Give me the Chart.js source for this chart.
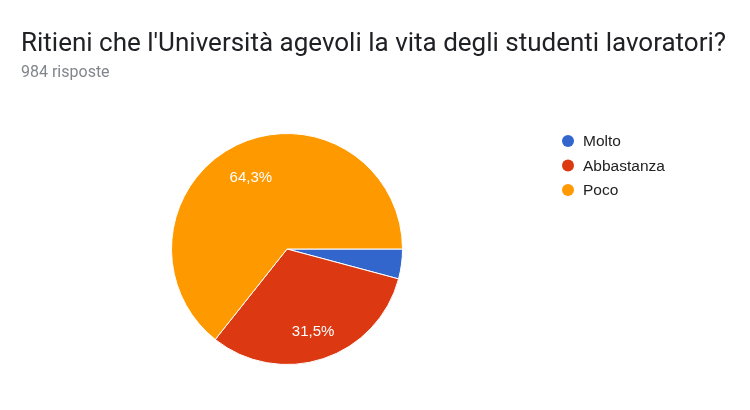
<!DOCTYPE html>
<html>
<head>
<meta charset="utf-8">
<script src="https://cdn.jsdelivr.net/npm/chart.js@4/dist/chart.umd.min.js"></script>
<style>
  html, body { margin: 0; padding: 0; background: #fff; }
  #wrap { position: relative; width: 750px; height: 410px; overflow: hidden; }
  #c { position: absolute; left: 0; top: 0; }
  #title { position: absolute; left: 21px; top: 29px; font-family: Roboto, sans-serif; font-size: 26px; line-height: 26px; color: #202124; white-space: nowrap; }
  #sub { position: absolute; left: 21px; top: 63px; font-family: Roboto, sans-serif; font-size: 16px; line-height: 18px; color: #80868b; white-space: nowrap; }
</style>
</head>
<body>
<div id="wrap">
  <canvas id="c" width="750" height="410"></canvas>
  <div id="title">Ritieni che l'Università agevoli la vita degli studenti lavoratori?</div>
  <div id="sub">984 risposte</div>
</div>
<script>
const categories = ['Molto', 'Abbastanza', 'Poco'];
const counts = [41, 310, 633];
const sliceColors = ['#3366CC', '#DC3912', '#FF9900'];

const total = counts.reduce((a, b) => a + b, 0);
function pctText(v) {
  return (v / total * 100).toFixed(1).replace('.', ',') + '%';
}

const sliceLabels = {
  id: 'sliceLabels',
  afterDatasetsDraw(chart) {
    const ctx = chart.ctx;
    const meta = chart.getDatasetMeta(0);
    ctx.save();
    ctx.font = '15px "Liberation Sans", Arial, sans-serif';
    ctx.fillStyle = '#ffffff';
    ctx.textAlign = 'center';
    ctx.textBaseline = 'middle';
    meta.data.forEach((arc, i) => {
      const v = counts[i];
      if (v / total < 0.05) return;
      const p = arc.getProps(['x', 'y', 'startAngle', 'endAngle', 'outerRadius'], true);
      const mid = (p.startAngle + p.endAngle) / 2;
      const r = p.outerRadius * 0.72;
      ctx.fillText(pctText(v), p.x + Math.cos(mid) * r, p.y + Math.sin(mid) * r + 4);
    });
    ctx.restore();
  }
};

const customLegend = {
  id: 'customLegend',
  afterDraw(chart) {
    const ctx = chart.ctx;
    ctx.save();
    ctx.font = '15.5px "Liberation Sans", Arial, sans-serif';
    ctx.textAlign = 'left';
    ctx.textBaseline = 'middle';
    categories.forEach((name, i) => {
      const y = 141 + i * 24.5;
      ctx.beginPath();
      ctx.arc(568, y, 6, 0, Math.PI * 2);
      ctx.fillStyle = sliceColors[i];
      ctx.fill();
      ctx.fillStyle = '#222222';
      ctx.fillText(name, 583, y + 1);
    });
    ctx.restore();
  }
};

new Chart(document.getElementById('c'), {
  type: 'pie',
  data: {
    labels: categories,
    datasets: [{
      data: counts,
      backgroundColor: sliceColors,
      borderColor: '#ffffff',
      borderWidth: 1
    }]
  },
  options: {
    responsive: false,
    animation: false,
    rotation: 90,
    layout: { padding: { left: 171, right: 347, top: 133, bottom: 45 } },
    plugins: {
      legend: { display: false },
      tooltip: { enabled: false },
      title: { display: false }
    }
  },
  plugins: [sliceLabels, customLegend]
});
</script>
</body>
</html>
